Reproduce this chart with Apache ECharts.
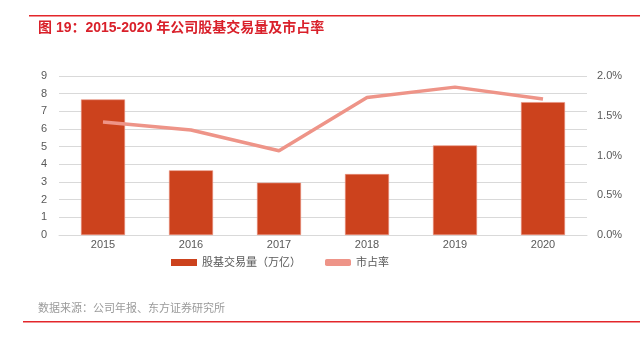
<!DOCTYPE html>
<html><head><meta charset="utf-8">
<script src="https://cdn.jsdelivr.net/npm/echarts@6/dist/echarts.min.js"></script>
<style>html,body{margin:0;padding:0;background:#fff;}#c{width:640px;height:345px;}</style>
</head><body><div id="c"></div>
<script>
const categories = ['2015','2016','2017','2018','2019','2020'];
const volume = [7.67, 3.66, 2.96, 3.45, 5.07, 7.52];
const share = [1.42, 1.32, 1.06, 1.73, 1.86, 1.71];
const leftTicks = [0,1,2,3,4,5,6,7,8,9];
const rightTicks = [0,0.5,1.0,1.5,2.0];
const chart = echarts.init(document.getElementById('c'));
const font = '"Liberation Sans", "Noto Sans CJK SC", sans-serif';
chart.setOption({
  animation:false,
  graphic:[
    {type:'rect',shape:{x:29,y:15,width:611,height:1.5},style:{fill:'#E3262B'}},
    {type:'text',left:38,top:21,style:{text:'图 19：2015-2020 年公司股基交易量及市占率',fill:'#D9202A',font:'bold 14px '+font}},
    {type:'text',left:38,top:303,style:{text:'数据来源：公司年报、东方证券研究所',fill:'#9a9a9a',font:'11px '+font}},
    {type:'rect',shape:{x:23,y:321,width:617,height:1.5},style:{fill:'#E3262B'}}
  ],
  grid:{left:59,right:53,top:76,bottom:110},
  legend:{
    top:252,left:166,itemGap:24,itemWidth:26,itemHeight:7,
    textStyle:{color:'#595959',fontSize:11,fontFamily:font},
    data:[{name:'股基交易量（万亿）',icon:'rect',itemStyle:{borderWidth:0}},{name:'市占率',icon:'roundRect'}]
  },
  xAxis:{type:'category',data:categories,
    axisLine:{lineStyle:{color:'#d9d9d9'}},axisTick:{show:false},
    axisLabel:{color:'#595959',fontSize:11,fontFamily:'"Liberation Sans", sans-serif',margin:4}},
  yAxis:[
    {type:'value',min:0,max:9,interval:1,
      axisLabel:{color:'#595959',fontSize:11,fontFamily:'"Liberation Sans", sans-serif',margin:12},
      splitLine:{lineStyle:{color:'#d9d9d9'}},axisLine:{show:false},axisTick:{show:false}},
    {type:'value',min:0,max:2.0,interval:0.5,
      axisLabel:{color:'#595959',fontSize:11,fontFamily:'"Liberation Sans", sans-serif',margin:10,formatter:v=>v.toFixed(1)+'%'},
      splitLine:{show:false},axisLine:{show:false},axisTick:{show:false}}
  ],
  series:[
    {name:'股基交易量（万亿）',type:'bar',data:volume,barWidth:'50%',
      itemStyle:{color:'#CC421D',borderColor:'#E8907E',borderWidth:0.6}},
    {name:'市占率',type:'line',yAxisIndex:1,data:share,symbol:'none',
      lineStyle:{color:'#EE9488',width:3.5},itemStyle:{color:'#EE9488'}}
  ]
});
</script></body></html>
